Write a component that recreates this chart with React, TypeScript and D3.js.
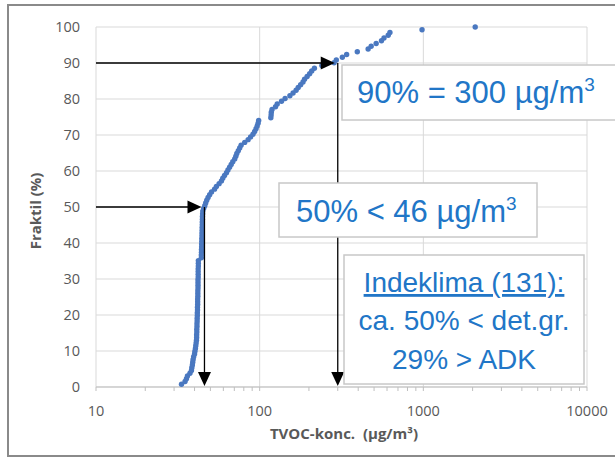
import React, { useEffect } from "react";
import * as d3 from "d3";

// TVOC concentrations (µg/m³), sorted, 131 indoor climate samples
const tvoc = [
  33.3, 35.0, 35.7, 36.2, 37.5, 38.3, 38.5, 38.8, 39.0, 39.2,
  39.5, 40.0, 40.2, 40.5, 40.7, 40.9, 41.1,
  41.2, 41.2, 41.3, 41.3, 41.4, 41.4, 41.5, 41.5, 41.6, 41.6, 41.7, 41.7,
  41.8, 41.8, 41.8, 41.9, 41.9, 41.9, 42.0, 42.0, 42.0, 42.0,
  42.1, 42.1, 42.1, 42.1, 42.2, 42.2, 42.2,
  44.0, 44.0, 44.1, 44.1, 44.2, 44.2, 44.3, 44.3, 44.4, 44.4,
  44.5, 44.5, 44.6, 44.6, 44.7, 44.7, 44.8, 44.9,
  45.5, 46.2, 46.8, 47.5, 48.4, 49.5, 50.8, 53.0, 54.4, 56.5,
  58.4, 59.5, 61.0, 62.7, 64.0, 65.5, 67.0, 68.5, 70.4, 71.5,
  72.5, 74.0, 75.5, 77.0, 81.0, 85.0, 88.0, 91.0, 93.2, 95.0,
  96.5, 97.8, 98.6, 117, 117.5, 117.8, 119, 125, 128, 136,
  143, 153, 160, 167, 172, 178, 184, 188, 195, 202,
  208, 216, 240, 285, 294, 320, 340, 395, 460, 480,
  515, 555, 575, 610, 625, 982, 2075,
];
// fractile = rank / n
const fraktil = tvoc.map((_, i) => ((i + 1) / tvoc.length) * 100);

const xTicks = [10, 100, 1000, 10000];
const yTicks = [0, 10, 20, 30, 40, 50, 60, 70, 80, 90, 100];
const markers = [
  { value: 46, pct: 50 },
  { value: 300, pct: 90 },
];

const W = 615;
const H = 458;
const tickFont = "'Open Sans', 'Liberation Sans', sans-serif";
const boxFont = "'Liberation Sans', Arial, sans-serif";
const blue = "#2176c7";
const grey = "#595959";

export default function App() {
  useEffect(() => {
    document.body.style.margin = "0";
  }, []);

  const x = d3.scaleLog().domain([10, 10000]).range([96, 587]);
  const y = d3.scaleLinear().domain([0, 100]).range([387, 27]);

  // minor ticks 2..9 per decade
  const minor: number[] = [];
  for (let d = 10; d < 10000; d *= 10) {
    for (let k = 2; k <= 9; k++) minor.push(d * k);
  }

  const arrowH = (px: number, py: number) =>
    `M${px},${py} L${px - 14},${py - 6.5} L${px - 14},${py + 6.5} Z`;
  const arrowV = (px: number, py: number) =>
    `M${px},${py} L${px - 6.5},${py - 14} L${px + 6.5},${py - 14} Z`;

  return (
    <svg width={W} height={H} style={{ display: "block", background: "#fff" }}>
      <rect x={8} y={5} width={640} height={451} fill="#fff" stroke="#8a8a8a" strokeWidth={2} />

      {/* gridlines */}
      {yTicks.map((t) => (
        <line key={"gy" + t} x1={x(10)} x2={x(10000)} y1={y(t)} y2={y(t)} stroke="#d9d9d9" strokeWidth={1} />
      ))}
      {xTicks.map((t) => (
        <line key={"gx" + t} x1={x(t)} x2={x(t)} y1={y(0)} y2={y(100)} stroke="#d9d9d9" strokeWidth={1} />
      ))}
      <line x1={x(10)} x2={x(10000)} y1={y(0)} y2={y(0)} stroke="#bfbfbf" strokeWidth={1} />
      {xTicks.concat(minor).map((t) => (
        <line key={"tk" + t} x1={x(t)} x2={x(t)} y1={y(0)} y2={y(0) + 4} stroke="#bfbfbf" strokeWidth={1} />
      ))}

      {/* tick labels */}
      {yTicks.map((t) => (
        <text key={"ly" + t} x={80} y={y(t) + 5} textAnchor="end" fontFamily={tickFont} fontSize={14.5} fill={grey}>
          {t}
        </text>
      ))}
      {xTicks.map((t) => (
        <text key={"lx" + t} x={x(t)} y={416} textAnchor="middle" fontFamily={tickFont} fontSize={14.5} fill={grey}>
          {t}
        </text>
      ))}

      {/* axis titles */}
      <text x={344} y={439} textAnchor="middle" fontFamily={tickFont} fontSize={15} fontWeight="bold" fill={grey} style={{ whiteSpace: "pre" }}>
        {"TVOC-konc.  (µg/m³)"}
      </text>
      <text
        transform={`translate(41,${211}) rotate(-90)`}
        textAnchor="middle"
        fontFamily={tickFont}
        fontSize={15}
        fontWeight="bold"
        fill={grey}
      >
        Fraktil (%)
      </text>

      {/* data points */}
      {tvoc.map((v, i) => (
        <circle key={"p" + i} cx={x(v)} cy={y(fraktil[i])} r={2.7} fill="#4a78c0" />
      ))}

      {/* arrows */}
      {markers.map((m) => (
        <g key={"m" + m.pct}>
          <line x1={x(10)} x2={x(m.value) - 6} y1={y(m.pct)} y2={y(m.pct)} stroke="#000" strokeWidth={1.3} />
          <path d={arrowH(x(m.value) - 3, y(m.pct))} fill="#000" />
          <line x1={x(m.value)} x2={x(m.value)} y1={y(m.pct)} y2={y(0) - 8} stroke="#000" strokeWidth={1.3} />
          <path d={arrowV(x(m.value), y(0) - 1)} fill="#000" />
        </g>
      ))}

      {/* annotation boxes */}
      <rect x={342} y={65} width={290} height={55} fill="#fff" stroke="#c8c8c8" strokeWidth={1.5} />
      <text x={357} y={103} fontFamily={boxFont} fontSize={31} fill={blue}>
        90% = 300 µg/m<tspan fontSize={19} dy={-12}>3</tspan>
      </text>

      <rect x={279} y={183} width={258} height={54} fill="#fff" stroke="#c8c8c8" strokeWidth={1.5} />
      <text x={296} y={222} fontFamily={boxFont} fontSize={31} fill={blue}>
        50% &lt; 46 µg/m<tspan fontSize={19} dy={-12}>3</tspan>
      </text>

      <rect x={344} y={255} width={240} height={129} fill="#fff" stroke="#c8c8c8" strokeWidth={1.5} />
      <text x={464} y={292} textAnchor="middle" fontFamily={boxFont} fontSize={28} fill={blue} textDecoration="underline">
        Indeklima (131):
      </text>
      <text x={464} y={330} textAnchor="middle" fontFamily={boxFont} fontSize={28} fill={blue}>
        ca. 50% &lt; det.gr.
      </text>
      <text x={464} y={369} textAnchor="middle" fontFamily={boxFont} fontSize={28} fill={blue}>
        29% &gt; ADK
      </text>
    </svg>
  );
}
